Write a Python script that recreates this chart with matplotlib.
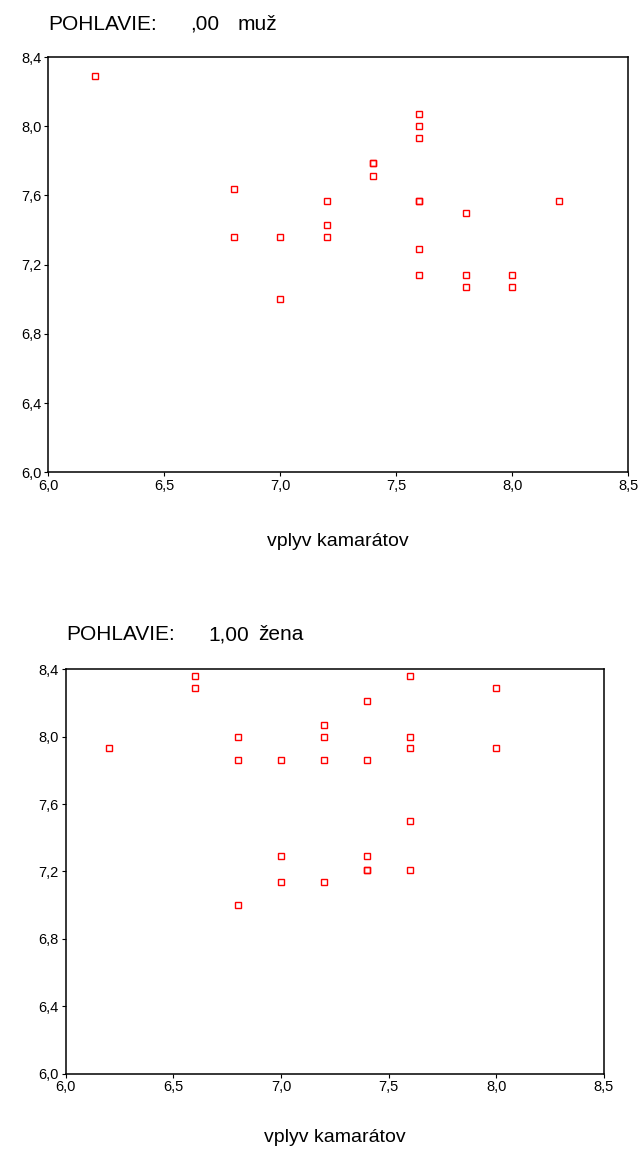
import matplotlib
matplotlib.use("Agg")
import matplotlib.pyplot as plt
from matplotlib.ticker import FuncFormatter

plt.rcParams['font.family'] = ['Liberation Sans', 'DejaVu Sans']

# Data: vplyv kamarátov (x) vs. second variable (y), split by POHLAVIE
muz_x = [6.2, 6.8, 6.8, 7.0, 7.0, 7.2, 7.2, 7.2, 7.4, 7.4, 7.4,
         7.6, 7.6, 7.6, 7.6, 7.6, 7.6, 7.6, 7.8, 7.8, 7.8, 8.0, 8.0, 8.2]
muz_y = [8.29, 7.64, 7.36, 7.36, 7.00, 7.57, 7.43, 7.36, 7.79, 7.79, 7.71,
         8.07, 8.00, 7.93, 7.57, 7.57, 7.29, 7.14, 7.50, 7.14, 7.07, 7.14, 7.07, 7.57]

zena_x = [6.2, 6.6, 6.6, 6.8, 6.8, 6.8, 7.0, 7.0, 7.0, 7.2, 7.2, 7.2, 7.2,
          7.4, 7.4, 7.4, 7.4, 7.4, 7.6, 7.6, 7.6, 7.6, 7.6, 8.0, 8.0]
zena_y = [7.93, 8.36, 8.29, 8.00, 7.86, 7.00, 7.86, 7.29, 7.14, 8.07, 8.00, 7.86, 7.14,
          8.21, 7.86, 7.29, 7.21, 7.21, 8.36, 8.00, 7.93, 7.50, 7.21, 8.29, 7.93]

x_ticks = [6.0, 6.5, 7.0, 7.5, 8.0, 8.5]
y_ticks = [6.0, 6.4, 6.8, 7.2, 7.6, 8.0, 8.4]

W, H = 642, 1151
fig = plt.figure(figsize=(W / 100, H / 100), dpi=100)


def px_axes(l, t, r, b):
    return fig.add_axes([l / W, 1 - b / H, (r - l) / W, (b - t) / H])


comma = FuncFormatter(lambda v, p: f"{v:.1f}".replace('.', ','))


def setup(ax, xs, ys):
    ax.plot(xs, ys, linestyle='none', marker='s', markersize=5,
            markerfacecolor='none', markeredgecolor='#ff0000', markeredgewidth=1.0)
    ax.set_xlim(6.0, 8.5)
    ax.set_ylim(6.0, 8.4)
    ax.set_xticks(x_ticks)
    ax.set_yticks(y_ticks)
    ax.xaxis.set_major_formatter(comma)
    ax.yaxis.set_major_formatter(comma)
    for s in ax.spines.values():
        s.set_linewidth(1.1)
        s.set_color('black')
    ax.tick_params(direction='out', length=3, width=0.8, labelsize=10.5, pad=2)


ax1 = px_axes(48.3, 57, 628.3, 472.3)
setup(ax1, muz_x, muz_y)
ax2 = px_axes(65.7, 669.3, 604, 1073.5)
setup(ax2, zena_x, zena_y)


def ftext(x, y, s, size, ha='left'):
    fig.text(x / W, 1 - y / H, s, fontsize=size, ha=ha, va='center')


ftext(48, 24, "POHLAVIE:", 15)
ftext(190, 24, ",00", 15)
ftext(238, 24, "muž", 15)
ftext(338, 541, "vplyv kamarátov", 14, ha='center')

ftext(66, 635, "POHLAVIE:", 15)
ftext(208, 635, "1,00", 15)
ftext(258, 635, "žena", 15)
ftext(335, 1138, "vplyv kamarátov", 14, ha='center')

fig.savefig("out.png", dpi=100)
